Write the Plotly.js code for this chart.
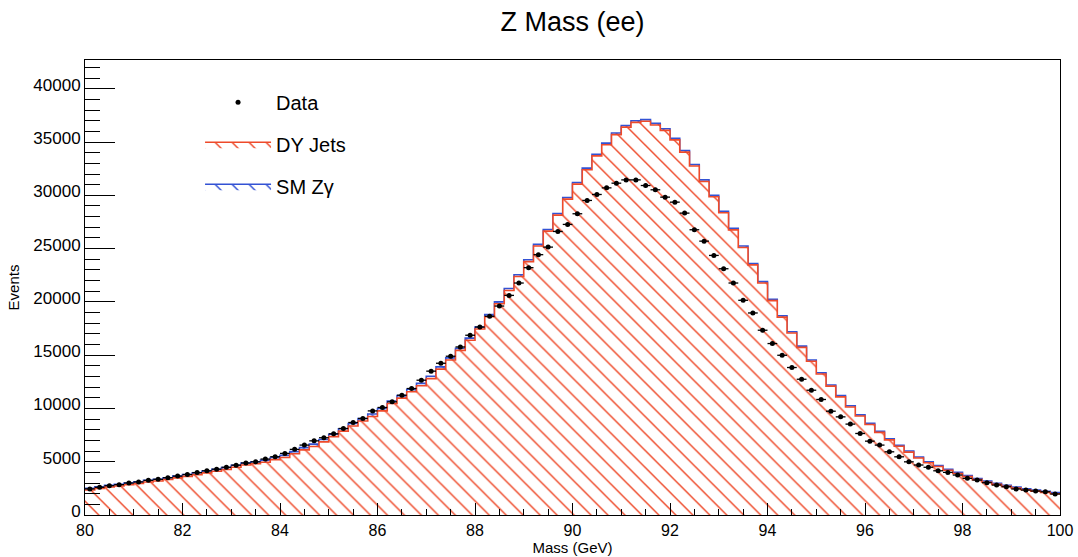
<!DOCTYPE html>
<html><head><meta charset="utf-8">
<script src="https://cdn.plot.ly/plotly-3.0.1.min.js"></script>
<style>html,body{margin:0;padding:0;background:#fff}</style>
</head><body><div id="chart" style="width:1078px;height:557px"></div>
<script>
// bin edges (GeV), 100 bins of 0.2 GeV
const binEdges = [80.0,80.2,80.4,80.6,80.8,81.0,81.2,81.4,81.6,81.8,82.0,82.2,82.4,82.6,82.8,83.0,83.2,83.4,83.6,83.8,
84.0,84.2,84.4,84.6,84.8,85.0,85.2,85.4,85.6,85.8,86.0,86.2,86.4,86.6,86.8,87.0,87.2,87.4,87.6,87.8,
88.0,88.2,88.4,88.6,88.8,89.0,89.2,89.4,89.6,89.8,90.0,90.2,90.4,90.6,90.8,91.0,91.2,91.4,91.6,91.8,
92.0,92.2,92.4,92.6,92.8,93.0,93.2,93.4,93.6,93.8,94.0,94.2,94.4,94.6,94.8,95.0,95.2,95.4,95.6,95.8,
96.0,96.2,96.4,96.6,96.8,97.0,97.2,97.4,97.6,97.8,98.0,98.2,98.4,98.6,98.8,99.0,99.2,99.4,99.6,99.8,100.0];

// SM Z-gamma contribution per bin
const smZg = [150,150,155,155,160,160,165,165,170,170,175,175,180,180,185,185,190,190,195,200,
200,205,210,215,220,225,230,230,230,230,230,230,230,230,220,220,210,210,200,200,
190,190,180,180,170,170,160,160,160,160,150,150,150,150,150,150,150,150,150,150,
150,150,150,150,140,140,140,140,130,130,130,130,120,120,120,120,110,110,110,110,
100,100,100,100,100,100,100,100,100,100,100,100,100,100,100,100,100,100,100,100];

// stacked total (DY Jets + SM Z-gamma) per bin
const stackTotal = [2500,2650,2780,2870,3000,3120,3260,3350,3500,3650,3800,3960,4130,4280,4460,4670,4880,5000,5150,5400,
5600,5950,6320,6650,7080,7580,8100,8580,9050,9480,10000,10700,11200,11800,12350,13020,13900,14750,15650,16600,
17650,18800,20000,21250,22550,23950,25400,26800,28300,29800,31200,32550,33850,34900,35850,36550,37000,37100,36750,36250,
35350,34200,32900,31450,30000,28500,26900,25250,23600,21900,20250,18700,17200,15850,14550,13350,12200,11200,10250,9400,
8600,7850,7150,6550,6000,5450,5000,4650,4300,4000,3700,3420,3180,2970,2790,2620,2470,2340,2220,2100];

// observed data per bin
const dataCounts = [2450,2600,2750,2850,3000,3100,3250,3350,3500,3650,3800,3980,4150,4300,4480,4680,4880,4990,5250,5470,
5780,6160,6560,6960,7250,7620,8120,8680,9060,9770,10090,10620,11240,11870,12650,13500,14240,14900,15770,16870,
17640,18650,19610,20610,21770,23210,24430,25140,26610,27270,28270,29520,30080,30700,31140,31450,31450,30920,30520,29830,
29360,28330,26770,25700,24360,23110,21770,20150,18960,17340,16090,14990,13840,12740,11710,10840,9740,9210,8530,7650,
6930,6560,5930,5460,4990,4690,4480,4150,4000,3750,3440,3280,3030,2810,2650,2440,2340,2250,2180,1970];

const dyJets = stackTotal.map((v, i) => v - smZg[i]);
const binCenters = binEdges.slice(0, -1).map((e, i) => (e + binEdges[i + 1]) / 2);
const halfWidths = binEdges.slice(0, -1).map((e, i) => (binEdges[i + 1] - e) / 2);
const stepY = arr => arr.concat([arr[arr.length - 1]]);

const RED = '#ee4a2a', BLUE = '#3352d4';
const FONT = 'Liberation Sans, Arial, Helvetica, sans-serif';

const traces = [
  {
    name: 'SM Z\u03b3', x: binEdges, y: stepY(stackTotal), type: 'scatter', mode: 'lines',
    line: {shape: 'hv', color: BLUE, width: 1.6}, fill: 'tozeroy', fillcolor: 'rgba(0,0,0,0)',
    fillpattern: {shape: '\\', fgcolor: BLUE, bgcolor: 'white', size: 12, solidity: 0.12},
    legendrank: 3, legendgroup: 'c', hoverinfo: 'skip'
  },
  {
    name: 'DY Jets', x: binEdges, y: stepY(dyJets), type: 'scatter', mode: 'lines',
    line: {shape: 'hv', color: RED, width: 1.6}, fill: 'tozeroy', fillcolor: 'rgba(0,0,0,0)',
    fillpattern: {shape: '\\', fgcolor: RED, bgcolor: 'white', size: 12, solidity: 0.12},
    legendrank: 2, legendgroup: 'b', hoverinfo: 'skip'
  },
  {
    name: 'Data', x: binCenters, y: dataCounts, type: 'scatter', mode: 'markers',
    marker: {color: 'black', size: 5, symbol: 'circle'},
    error_x: {type: 'data', array: halfWidths, color: 'black', thickness: 1.3, width: 0},
    error_y: {type: 'data', array: dataCounts.map(v => Math.sqrt(v)), color: 'black', thickness: 1.3, width: 0},
    legendrank: 1, legendgroup: 'a'
  }
];

const layout = {
  width: 1078, height: 557,
  margin: {l: 85, r: 18, t: 60, b: 42},
  paper_bgcolor: 'white', plot_bgcolor: 'white',
  font: {family: FONT, color: 'black', size: 17},
  title: {text: 'Z Mass (ee)', font: {family: FONT, size: 27, color: 'black'},
          x: 0.5, xref: 'paper', xanchor: 'center', y: 0.962, yanchor: 'middle'},
  showlegend: true,
  legend: {x: 0.118, y: 0.95, xanchor: 'left', yanchor: 'top', bgcolor: 'rgba(0,0,0,0)',
           font: {family: FONT, size: 20, color: 'black'}, traceorder: 'grouped',
           tracegroupgap: 13, itemwidth: 66},
  xaxis: {
    range: [80, 100], dtick: 2, tick0: 80, ticks: 'inside', ticklen: 12, tickwidth: 1, tickcolor: 'black',
    showline: true, linecolor: 'black', linewidth: 1, mirror: true, showgrid: false, zeroline: false,
    tickfont: {family: FONT, size: 16, color: 'black'}, ticklabelstandoff: 1,
    minor: {dtick: 0.5, ticks: 'inside', ticklen: 6, tickcolor: 'black', showgrid: false},
    title: {text: 'Mass (GeV)', font: {family: FONT, size: 15, color: 'black'}, standoff: 4}
  },
  yaxis: {
    range: [0, 42700], dtick: 5000, tick0: 0, ticks: 'inside', ticklen: 30, tickwidth: 1, tickcolor: 'black',
    showline: true, linecolor: 'black', linewidth: 1, mirror: true, showgrid: false, zeroline: false,
    tickfont: {family: FONT, size: 17, color: 'black'}, tickformat: 'd', ticklabelshift: -4,
    minor: {dtick: 1000, ticks: 'inside', ticklen: 15, tickcolor: 'black', showgrid: false},
    title: {text: 'Events', font: {family: FONT, size: 15, color: 'black'}, standoff: 10}
  }
};

Plotly.newPlot('chart', traces, layout, {staticPlot: true, displayModeBar: false});
</script></body></html>
